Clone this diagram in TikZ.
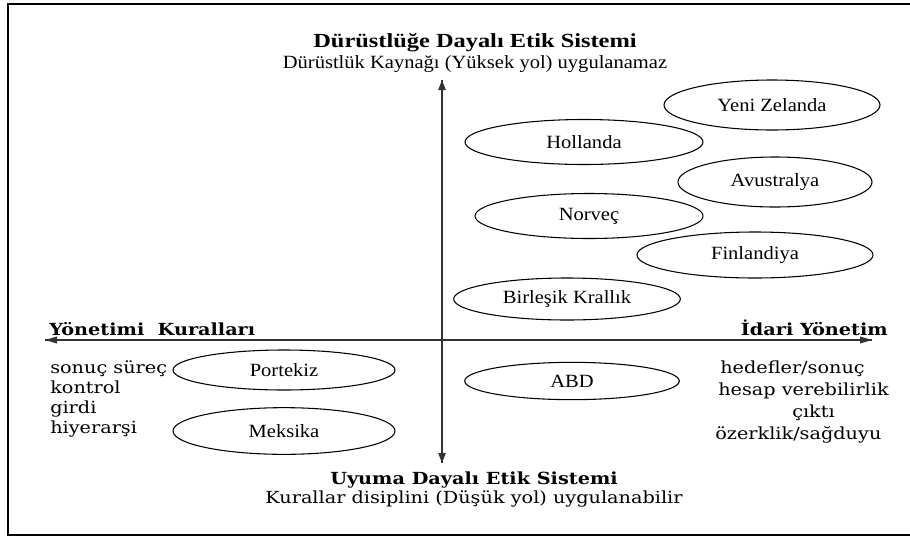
\documentclass[tikz,border=0pt]{standalone}
\usepackage{fontspec}
\usepackage{graphicx}
\setmainfont{Liberation Serif}
\newfontfamily\wideserif{DejaVu Serif}[FakeStretch=1.155]
\usetikzlibrary{arrows.meta,shapes.geometric}
\definecolor{axisgray}{HTML}{333333}
% horizontally widened text
\newcommand{\widen}[2]{\scalebox{#1}[1]{#2}}
\begin{document}
\begin{tikzpicture}[x=0.75pt,y=-0.75pt,
  frame/.style={draw=black,line width=1.5pt},
  axis/.style={draw=axisgray,line width=1.1pt},
  country/.style={draw=black,line width=0.8pt,ellipse,inner sep=0pt,
    font=\fontsize{14pt}{17pt}\selectfont},
  heading/.style={anchor=base,inner sep=0pt,font=\fontsize{14pt}{17pt}\selectfont},
  pole/.style={anchor=base,inner sep=0pt,font=\wideserif\fontsize{12.5pt}{15pt}\selectfont},
  side/.style={anchor=base west,inner sep=0pt,font=\wideserif\fontsize{12.5pt}{15pt}\selectfont}]

\useasboundingbox (0,0) rectangle (910,536);
\clip (0,0) rectangle (910,536);

% outer frame (its right edge lies past the page)
\draw[frame] (7.5,3.5) rectangle (930,535);

% axes
\coordinate (up) at (442,80);
\coordinate (down) at (442,463);
\coordinate (west) at (45,340);
\coordinate (east) at (872,340);
\draw[axis,-{Triangle[length=7.5pt,width=5.5pt]}] (down) -- (up);
\draw[axis,-{Triangle[length=7.5pt,width=5.5pt]}] (up) -- (down);
\draw[axis,-{Triangle[length=9pt,width=5pt]}] (east) -- (west);
\draw[axis,-{Triangle[length=9pt,width=5pt]}] (west) -- (east);

% top pole
\node[heading,font=\bfseries\fontsize{15pt}{18pt}\selectfont] (toptitle) at (475,47)
  {\widen{1.22}{Dürüstlüğe Dayalı Etik Sistemi}};
\node[heading] (topsub) at (475,68) {\widen{1.1}{Dürüstlük Kaynağı (Yüksek yol) uygulanamaz}};

% bottom pole
\node[pole] (bottitle) at (474,484) {\bfseries Uyuma Dayalı Etik Sistemi};
\node[pole] (botsub) at (474,503) {Kurallar disiplini (Düşük yol) uygulanabilir};

% horizontal poles
\node[side] (lefttitle) at (49,335) {\bfseries Yönetimi\ \ Kuralları};
\node[side,anchor=base east] (righttitle) at (888,335) {\bfseries İdari Yönetim};

% left list
\node[side] (l1) at (50,373) {sonuç süreç};
\node[side] (l2) at (50,393) {kontrol};
\node[side] (l3) at (50,413) {girdi};
\node[side] (l4) at (50,433) {hiyerarşi};

% right list
\node[side] (r1) at (720,373) {hedefler/sonuç};
\node[side] (r2) at (718,395) {hesap verebilirlik};
\node[side] (r3) at (792,417) {çıktı};
\node[side] (r4) at (715,439) {özerklik/sağduyu};

% countries
\node[country,minimum width=162pt,minimum height=37.5pt] (nz) at (772,105) {\widen{1.1}{Yeni Zelanda}};
\node[country,minimum width=178.5pt,minimum height=33.75pt] (nl) at (584,142) {\widen{1.1}{Hollanda}};
\node[country,minimum width=145.5pt,minimum height=37.5pt] (au) at (775,182) {\widen{1.1}{Avustralya}};
\node[country,minimum width=171pt,minimum height=33.75pt] (no) at (589,216) {\widen{1.1}{Norveç}};
\node[country,minimum width=177pt,minimum height=34.5pt] (fi) at (755,255) {\widen{1.1}{Finlandiya}};
\node[country,minimum width=170pt,minimum height=31.5pt] (uk) at (567,299) {\widen{1.1}{Birleşik Krallık}};
\node[country,minimum width=166.5pt,minimum height=30pt] (pt) at (284,370) {\widen{1.1}{Portekiz}};
\node[country,minimum width=166.5pt,minimum height=35pt] (mx) at (284,431) {\widen{1.1}{Meksika}};
\node[country,minimum width=161pt,minimum height=28pt] (us) at (572,381) {\widen{1.1}{ABD}};
\end{tikzpicture}
\end{document}
